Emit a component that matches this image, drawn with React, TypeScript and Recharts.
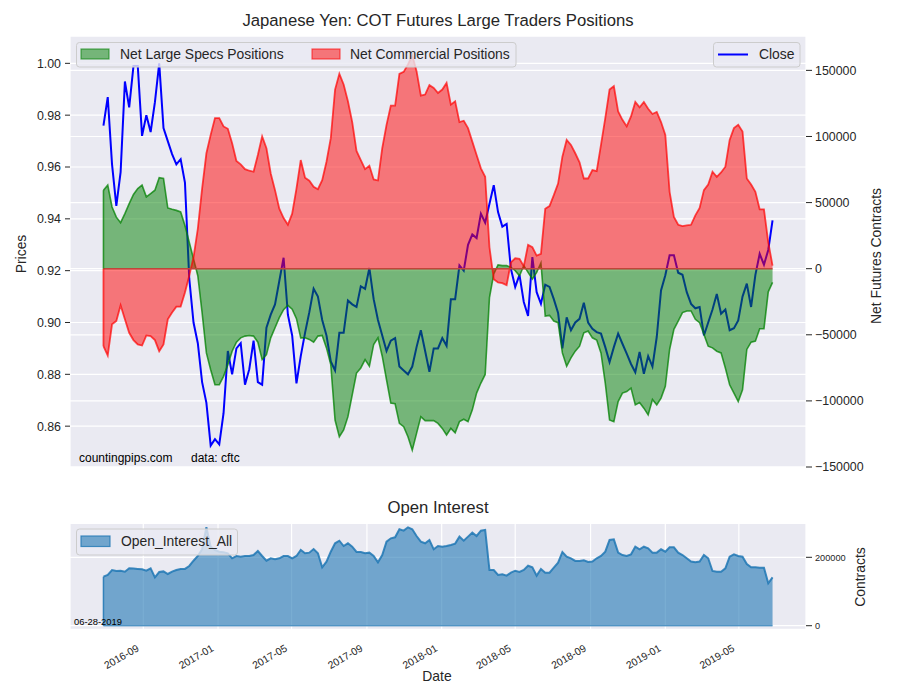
import React from 'react';
import { ComposedChart, Line, Area, XAxis, YAxis, CartesianGrid, ReferenceLine } from 'recharts';

const FONT = "'Liberation Sans', Arial, Helvetica, sans-serif";
const TXT = '#262626';

// first weekly report date (COT, Tuesdays)
const firstReport = [2016, 6, 28];

const closePrices = [
  0.976, 0.987, 0.961, 0.945, 0.958, 0.993, 0.983, 0.999, 0.999, 0.972,
  0.980, 0.9735, 0.985, 1.000, 0.975, 0.970, 0.965, 0.961, 0.963, 0.954,
  0.917, 0.900, 0.892, 0.877, 0.869, 0.8525, 0.855, 0.853, 0.865, 0.889,
  0.880, 0.890, 0.892, 0.876, 0.882, 0.893, 0.877, 0.876, 0.898, 0.903,
  0.907, 0.916, 0.925, 0.903, 0.895, 0.8765, 0.887, 0.896, 0.904, 0.913,
  0.910, 0.901, 0.895, 0.885, 0.8815, 0.896, 0.896, 0.9085, 0.907, 0.906,
  0.914, 0.913, 0.921, 0.909, 0.901, 0.895, 0.889, 0.893, 0.894, 0.883,
  0.8815, 0.880, 0.883, 0.8905, 0.897, 0.889, 0.881, 0.890, 0.890, 0.894,
  0.891, 0.909, 0.909, 0.922, 0.920, 0.930, 0.934, 0.9326, 0.942, 0.9385,
  0.9458, 0.953, 0.9426, 0.937, 0.938, 0.9207, 0.9137, 0.9184, 0.9079, 0.9025,
  0.9252, 0.9117, 0.9072, 0.9146, 0.9137, 0.909, 0.9037, 0.890, 0.902, 0.897,
  0.900, 0.9014, 0.9076, 0.900, 0.8976, 0.8963, 0.8957, 0.8905, 0.8847, 0.8905,
  0.8957, 0.8918, 0.888, 0.884, 0.8808, 0.8886, 0.8802, 0.887, 0.883, 0.8944,
  0.9124, 0.9182, 0.9259, 0.9259, 0.9192, 0.9184, 0.9117, 0.9072, 0.9055, 0.906,
  0.895, 0.900, 0.905, 0.911, 0.9034, 0.905, 0.897, 0.8978, 0.9008, 0.910,
  0.915, 0.906, 0.9184, 0.9265, 0.9223, 0.928, 0.9394,
];

const netLargeSpecs = [
  59400, 63200, 46700, 39000, 34800, 41600, 49200, 56100, 60600, 63200,
  54300, 56800, 59400, 68800, 68200, 45900, 44900, 44100, 42900, 32700,
  20000, 7400, -5300, -33200, -63700, -76400, -87800, -87800, -81400, -72600,
  -62400, -55600, -52300, -51000, -50500, -51000, -55600, -68800, -65000, -52300,
  -44700, -37000, -31000, -27700, -30700, -37800, -52300, -52300, -53500, -55600,
  -51000, -50500, -59900, -72600, -114500, -127100, -122000, -111900, -95400, -78900,
  -75100, -68800, -73800, -57300, -52300, -66200, -84000, -101700, -102200, -117000,
  -119500, -127100, -137300, -124600, -111900, -114900, -114900, -114900, -117000, -120800,
  -125800, -120800, -124100, -115700, -113900, -115700, -106800, -94100, -86500, -80000,
  -21800, -4000, 2800, 2300, 2300, 1000, -1500, -5300, 2300, -2800,
  -7900, -2800, 4300, -35800, -35300, -39600, -40800, -63700, -73800, -67500,
  -62400, -58600, -48500, -47200, -52300, -54000, -63700, -86500, -114400, -115700,
  -100500, -94100, -92900, -90300, -103000, -101200, -105500, -110600, -99000, -103000,
  -97900, -89000, -61100, -45900, -39600, -33200, -32000, -32000, -38300, -40800,
  -49700, -58600, -59900, -62400, -63700, -75100, -87800, -94100, -100500, -91600,
  -61100, -55600, -54800, -45400, -45400, -17500, -10400,
];

const netCommercial = [
  -58600, -65700, -42100, -39600, -27700, -38300, -48500, -54000, -57300, -58100,
  -50500, -51000, -54000, -62400, -57300, -38300, -33200, -28700, -28700, -18000,
  -5300, 8600, 30200, 60600, 87300, 101200, 113900, 113900, 107600, 105800,
  94900, 81400, 78900, 75300, 74100, 73300, 86000, 100000, 91100, 72000,
  59400, 45400, 38300, 33200, 41600, 60600, 82200, 68800, 66500, 61900,
  60100, 67000, 80900, 98700, 135500, 147400, 139300, 126600, 110900, 89100,
  82200, 75300, 77900, 67500, 66700, 91100, 108800, 123300, 123300, 147400,
  148900, 154500, 161600, 149400, 130900, 131700, 138800, 136700, 132900, 135500,
  140500, 124100, 126600, 110900, 111900, 106300, 96100, 86000, 75900, 69500,
  16200, -8000, -10400, -10900, -12400, 4800, 7900, 7400, 1800, 18000,
  16200, 9900, 11200, 45400, 47400, 55600, 64400, 84700, 97400, 93600,
  87300, 80400, 68200, 68200, 74600, 73800, 93600, 113900, 135500, 138000,
  119000, 112600, 107600, 115200, 126100, 122000, 126100, 121000, 117000, 118500,
  110900, 101200, 58100, 39100, 33200, 32200, 32700, 33200, 40300, 45900,
  59400, 63700, 73300, 69500, 72800, 77100, 97400, 106300, 108800, 103800,
  68200, 63700, 58100, 44900, 44900, 20000, 2300,
];

const openInterest = [
  143300, 148300, 162900, 160000, 160800, 158000, 167800, 167000, 166000, 165000,
  160800, 167800, 141500, 157000, 158800, 151200, 158000, 162900, 166000, 166000,
  174600, 190000, 203800, 223400, 287700, 231000, 221300, 216400, 214600, 211700,
  197100, 203800, 201900, 203800, 203800, 206700, 218400, 203800, 190000, 197100,
  194100, 197100, 203800, 203800, 197100, 203800, 221300, 211700, 213600, 224300,
  211700, 170700, 187200, 216400, 240900, 248500, 233000, 240900, 231000, 215500,
  215500, 211700, 213600, 203800, 185300, 206700, 245600, 255500, 258400, 281800,
  277900, 287700, 281800, 262300, 245600, 240900, 250600, 223400, 233000, 231000,
  233000, 236100, 240000, 260400, 248500, 260400, 272000, 262300, 277900, 279900,
  162900, 162900, 148300, 150300, 146400, 155100, 160800, 157000, 162900, 175400,
  170700, 146400, 166000, 155100, 155100, 169700, 184300, 215500, 201900, 197100,
  189300, 189300, 191300, 186400, 187400, 197100, 203800, 216400, 250600, 252500,
  213600, 206700, 203800, 208700, 231000, 223400, 231000, 226100, 213600, 213600,
  223400, 216400, 229100, 229100, 213600, 206700, 197100, 187400, 185300, 187400,
  206700, 197100, 160000, 158000, 158000, 167800, 201900, 208700, 203800, 201900,
  180500, 170700, 170700, 169700, 169700, 124000, 141500,
];

const dateTickLabels = ['2016-09', '2017-01', '2017-05', '2017-09', '2018-01', '2018-05', '2018-09', '2019-01', '2019-05'];
const priceTicks = [0.86, 0.88, 0.9, 0.92, 0.94, 0.96, 0.98, 1.0];
const netTicks = [-150000, -100000, -50000, 0, 50000, 100000, 150000];
const oiTicks = [0, 200000];

const DAY = 86400000;
const t0 = Date.UTC(firstReport[0], firstReport[1] - 1, firstReport[2]);
const data = closePrices.map((c, i) => ({
  t: t0 + i * 7 * DAY,
  close: c,
  specs: netLargeSpecs[i],
  comm: netCommercial[i],
  oi: openInterest[i],
}));
const tEnd = data[data.length - 1].t;
const pad = (tEnd - t0) * 0.05;
const xDomain = [t0 - pad, tEnd + pad];
const xTicks = dateTickLabels.map((s) => {
  const [y, m] = s.split('-').map(Number);
  return Date.UTC(y, m - 1, 1);
});

const fmtNet = (v: number) => (v < 0 ? '\u2212' + Math.abs(v) : String(v));

const DateTick = (props: any) => {
  const { x, y, payload } = props;
  const d = new Date(payload.value);
  const label = `${d.getUTCFullYear()}-${String(d.getUTCMonth() + 1).padStart(2, '0')}`;
  const tx = x - 3.5;
  const ty = y + 21;
  return (
    <text x={tx} y={ty} transform={`rotate(-30, ${tx}, ${ty})`} textAnchor="end" fontSize={10.4} fill={TXT} fontFamily={FONT}>
      {label}
    </text>
  );
};

export default function App() {
  return (
    <div style={{ position: 'absolute', left: 0, top: 0, width: 900, height: 700, background: '#fff', overflow: 'hidden', fontFamily: FONT }}>
      <div style={{ position: 'absolute', left: 0, top: 0 }}>
        <ComposedChart width={900} height={480} data={data} margin={{ top: 36, right: 0, bottom: 12, left: 0 }}>
          <CartesianGrid yAxisId="left" fill="#EAEAF2" stroke="#FFFFFF" strokeWidth={1.2} />
          <CartesianGrid yAxisId="right" vertical={false} stroke="#FFFFFF" strokeWidth={1.2} />
          <XAxis type="number" dataKey="t" domain={xDomain} ticks={xTicks} interval={0} allowDataOverflow tick={false} tickLine={false} axisLine={false} height={1} />
          <YAxis
            yAxisId="left"
            orientation="left"
            width={70}
            domain={[0.84424, 1.01055]}
            ticks={priceTicks}
            interval={0}
            allowDataOverflow
            tickFormatter={(v: number) => v.toFixed(2)}
            tick={{ fill: TXT, fontSize: 12.4, fontFamily: FONT }}
            tickLine={{ stroke: TXT }}
            tickSize={5}
            tickMargin={4}
            axisLine={false}
          />
          <YAxis
            yAxisId="right"
            orientation="right"
            width={94}
            domain={[-150000, 176000]}
            ticks={netTicks}
            interval={0}
            allowDataOverflow
            tickFormatter={fmtNet}
            tick={{ fill: TXT, fontSize: 12.4, fontFamily: FONT }}
            tickLine={{ stroke: TXT }}
            tickSize={6}
            tickMargin={3}
            axisLine={false}
          />
          <Line yAxisId="left" dataKey="close" type="linear" stroke="#0000FF" strokeWidth={2} dot={false} activeDot={false} isAnimationActive={false} zIndex={50} />
          <Area yAxisId="right" dataKey="specs" type="linear" stroke="green" strokeOpacity={0.75} strokeWidth={1.6} fill="green" fillOpacity={0.5} dot={false} activeDot={false} isAnimationActive={false} zIndex={100} />
          <Area yAxisId="right" dataKey="comm" type="linear" stroke="red" strokeOpacity={0.7} strokeWidth={1.8} fill="red" fillOpacity={0.5} dot={false} activeDot={false} isAnimationActive={false} zIndex={100} />
          <ReferenceLine yAxisId="right" segment={[{ x: t0, y: 0 }, { x: tEnd, y: 0 }]} stroke="#C0463A" strokeWidth={1.5} />
          <ReferenceLine yAxisId="right" segment={[{ x: t0, y: 0 }, { x: t0, y: netLargeSpecs[0] }]} stroke="green" strokeOpacity={0.75} strokeWidth={1.6} />
          <ReferenceLine yAxisId="right" segment={[{ x: t0, y: 0 }, { x: t0, y: netCommercial[0] }]} stroke="red" strokeOpacity={0.7} strokeWidth={1.8} />
        </ComposedChart>
      </div>
      <div style={{ position: 'absolute', left: 0, top: 500 }}>
        <ComposedChart width={900} height={200} data={data} margin={{ top: 23.3, right: 0, bottom: 0, left: 70 }}>
          <CartesianGrid yAxisId="oi" fill="#EAEAF2" stroke="#FFFFFF" strokeWidth={1.2} />
          <XAxis type="number" dataKey="t" domain={xDomain} ticks={xTicks} interval={0} allowDataOverflow height={70.7} tick={<DateTick />} tickLine={false} axisLine={false} tickSize={0} tickMargin={0} />
          <YAxis
            yAxisId="oi"
            orientation="right"
            width={94}
            domain={[-10500, 299400]}
            ticks={oiTicks}
            interval={0}
            allowDataOverflow
            tick={{ fill: TXT, fontSize: 9.2, fontFamily: FONT }}
            tickLine={{ stroke: TXT }}
            tickSize={6}
            tickMargin={3}
            axisLine={false}
          />
          <Area yAxisId="oi" dataKey="oi" type="linear" stroke="#1f77b4" strokeOpacity={0.85} strokeWidth={2} fill="#1f77b4" fillOpacity={0.6} dot={false} activeDot={false} isAnimationActive={false} />
          <ReferenceLine yAxisId="oi" segment={[{ x: t0, y: 0 }, { x: t0, y: openInterest[0] }]} stroke="#1f77b4" strokeOpacity={0.85} strokeWidth={1.5} />
          <ReferenceLine yAxisId="oi" segment={[{ x: t0, y: 0 }, { x: tEnd, y: 0 }]} stroke="#1f77b4" strokeOpacity={0.6} strokeWidth={1.5} />
        </ComposedChart>
      </div>
      <svg width={900} height={700} style={{ position: 'absolute', left: 0, top: 0, pointerEvents: 'none' }} fontFamily={FONT}>
        <text x={438} y={26} textAnchor="middle" fontSize={16.7} fill={TXT}>Japanese Yen: COT Futures Large Traders Positions</text>
        <text x={438} y={513} textAnchor="middle" fontSize={16.7} fill={TXT}>Open Interest</text>
        <text x={437} y={681} textAnchor="middle" fontSize={13.9} fill={TXT}>Date</text>
        <text transform="translate(26,254) rotate(-90)" textAnchor="middle" fontSize={13.9} fill={TXT}>Prices</text>
        <text transform="translate(881,256) rotate(-90)" textAnchor="middle" fontSize={13.9} fill={TXT}>Net Futures Contracts</text>
        <text transform="translate(865,577) rotate(-90)" textAnchor="middle" fontSize={13.9} fill={TXT}>Contracts</text>
        <text x={79} y={462} fontSize={12} fill="#000">countingpips.com</text>
        <text x={191} y={462} fontSize={12} fill="#000">data: cftc</text>
        <text x={74} y={624.5} fontSize={9.4} fill="#000">06-28-2019</text>

        <rect x={76.5} y={42.5} width={439.5} height={24.5} rx={3} fill="#EAEAF2" fillOpacity={0.8} stroke="#CCCCCC" strokeWidth={1} />
        <rect x={81} y={49} width={28} height={10} fill="green" fillOpacity={0.5} stroke="green" strokeOpacity={0.6} strokeWidth={1.2} />
        <text x={120} y={59} fontSize={13.9} fill={TXT}>Net Large Specs Positions</text>
        <rect x={312} y={49} width={28} height={10} fill="red" fillOpacity={0.5} stroke="red" strokeOpacity={0.6} strokeWidth={1.2} />
        <text x={350} y={59} fontSize={13.9} fill={TXT}>Net Commercial Positions</text>

        <rect x={713.5} y={42.5} width={86.5} height={24.5} rx={3} fill="#EAEAF2" fillOpacity={0.8} stroke="#CCCCCC" strokeWidth={1} />
        <line x1={718} x2={748} y1={54.5} y2={54.5} stroke="#0000FF" strokeWidth={2} />
        <text x={759} y={59} fontSize={13.9} fill={TXT}>Close</text>

        <rect x={76.5} y={529} width={161} height={26} rx={3} fill="#EAEAF2" fillOpacity={0.8} stroke="#CCCCCC" strokeWidth={1} />
        <rect x={81} y={536} width={29} height={10.5} fill="#1f77b4" fillOpacity={0.6} stroke="#1f77b4" strokeOpacity={0.8} strokeWidth={1.2} />
        <text x={121} y={546} fontSize={13.9} fill={TXT}>Open_Interest_All</text>
      </svg>
    </div>
  );
}
